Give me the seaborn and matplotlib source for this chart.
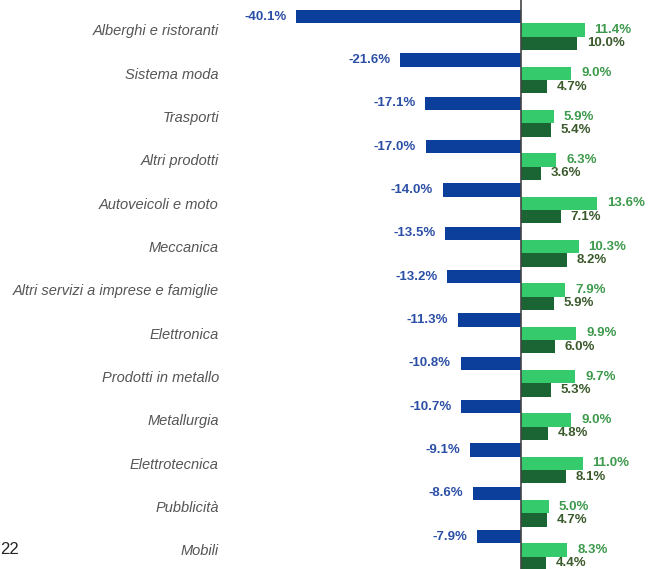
import pandas as pd
import seaborn as sns
import matplotlib.pyplot as plt

categories = ["Alberghi e ristoranti", "Sistema moda", "Trasporti", "Altri prodotti",
              "Autoveicoli e moto", "Meccanica", "Altri servizi a imprese e famiglie",
              "Elettronica", "Prodotti in metallo", "Metallurgia", "Elettrotecnica",
              "Pubblicità", "Mobili"]
calo = [-40.1, -21.6, -17.1, -17.0, -14.0, -13.5, -13.2, -11.3, -10.8, -10.7, -9.1, -8.6, -7.9]
ripresa_a = [11.4, 9.0, 5.9, 6.3, 13.6, 10.3, 7.9, 9.9, 9.7, 9.0, 11.0, 5.0, 8.3]
ripresa_b = [10.0, 4.7, 5.4, 3.6, 7.1, 8.2, 5.9, 6.0, 5.3, 4.8, 8.1, 4.7, 4.4]
series = ["calo", "ripresa_a", "ripresa_b"]

df = pd.DataFrame({"settore": categories * 3,
                   "valore": calo + ripresa_a + ripresa_b,
                   "serie": [s for s in series for _ in categories]})

palette = {"calo": "#0b3f9b", "ripresa_a": "#35cb6c", "ripresa_b": "#1b6535"}
label_colors = ["#2c4fa6", "#3d9a4c", "#3b5a2c"]

plt.rcParams['font.family'] = ['Liberation Sans', 'DejaVu Sans']
fig = plt.figure(figsize=(6.53, 5.69), dpi=100)
W, H = 653, 569
ax = fig.add_axes([230 / W, 0, 1 - 230 / W, 1])

sns.barplot(data=df, y="settore", x="valore", hue="serie", order=categories,
            hue_order=series, palette=palette, orient="h", width=0.92,
            legend=False, ax=ax, linewidth=0, saturation=1)

# same scale as the reference: zero at ~521px, ~5.6px per point
ax.set_xlim(-(521 - 230) / 5.6, (W - 521) / 5.6)
ax.set_ylim((H - 30) / 43.33, -30 / 43.33)

for cont, col in zip(ax.containers, label_colors):
    ax.bar_label(cont, fmt="%.1f%%", padding=7, color=col, fontsize=9.5,
                 fontweight="bold", clip_on=False)

ax.axvline(0, color="#444444", lw=1.2)
for s in ax.spines.values():
    s.set_visible(False)
ax.set_xticks([])
ax.set_xlabel("")
ax.set_ylabel("")
ax.tick_params(axis="y", length=0, pad=8)
for t in ax.get_yticklabels():
    t.set_fontstyle("italic")
    t.set_color("#555555")
    t.set_fontsize(10.5)

fig.text(0.0, 1 - 550 / H, "22", fontsize=12, color="#222222", va="center", ha="left")

fig.savefig("out.png", dpi=100)
